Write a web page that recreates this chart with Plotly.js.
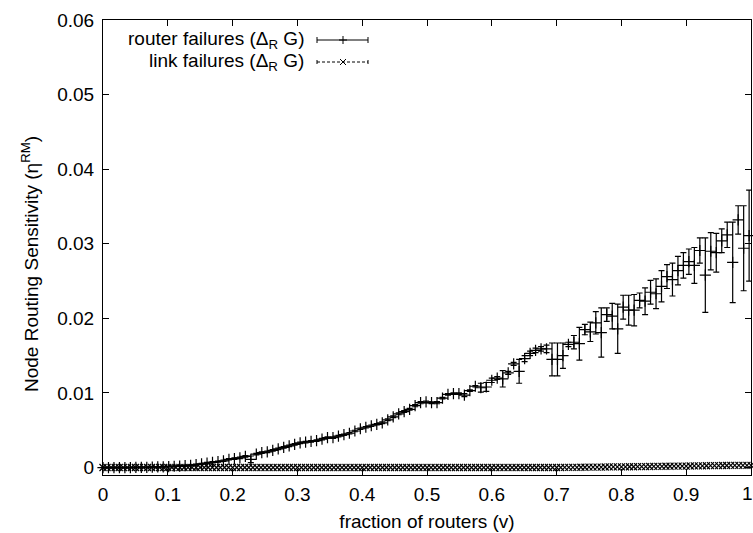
<!DOCTYPE html>
<html>
<head>
<meta charset="utf-8">
<script src="https://cdn.plot.ly/plotly-3.0.1.min.js"></script>
<style>html,body{margin:0;padding:0;background:#fff;}#chart{width:753px;height:533px;}</style>
</head>
<body>
<div id="chart"></div>
<script>
// ---- data ----
// sampling step of router-failure fractions (v)
const routerStep = 0.00845;
const routerY = [
  0, 0, 0, 0, 0, 0, 0.00001, 0.00002, 0.00003, 0.00005,
  0.00008, 0.0001, 0.00013, 0.00017, 0.0002, 0.00025, 0.0003, 0.0004, 0.0005, 0.0006,
  0.0007, 0.0008, 0.0009, 0.0011, 0.0012, 0.0013, 0.0015, 0.0011, 0.0018, 0.0020,
  0.0021, 0.0023, 0.0025, 0.0027, 0.0029, 0.0031, 0.0033, 0.0034, 0.0035, 0.0036,
  0.0038, 0.0040, 0.0040, 0.0042, 0.0044, 0.0046, 0.0049, 0.0052, 0.0054, 0.0056,
  0.0058, 0.0060, 0.0064, 0.0068, 0.0072, 0.0075, 0.0078, 0.0083, 0.0087, 0.0088,
  0.0087, 0.0087, 0.0093, 0.0098, 0.0099, 0.0099, 0.0097, 0.0103, 0.0109, 0.0107,
  0.0108, 0.0117, 0.0120, 0.0119, 0.0127, 0.0139, 0.0129, 0.0146, 0.0153, 0.0157,
  0.0159, 0.0159, 0.0145, 0.0145, 0.0150, 0.0165, 0.0168, 0.0166, 0.0185, 0.0182,
  0.0194, 0.0181, 0.0205, 0.0203, 0.0186, 0.0215, 0.0211, 0.0211, 0.0224, 0.0223,
  0.0235, 0.0233, 0.0243, 0.0256, 0.0252, 0.0264, 0.0271, 0.0276, 0.0271, 0.0291,
  0.0258, 0.0290, 0.0288, 0.0304, 0.0312, 0.0275, 0.0332, 0.0294, 0.0311
];
const routerErr = [
  0.00003, 0.00003, 0.00003, 0.00003, 0.00003, 0.00003, 0.00003, 0.00003, 0.00004, 0.00004,
  0.00004, 0.00005, 0.00005, 0.00005, 0.00006, 0.00006, 0.00006, 0.00007, 0.00007, 0.00008,
  0.00008, 0.00008, 0.00009, 0.00009, 0.0001, 0.0001, 0.0001, 0.00045, 0.0001, 0.0001,
  0.0001, 0.0001, 0.0001, 0.0001, 0.0001, 0.0001, 0.0001, 0.0001, 0.0001, 0.0001,
  0.0001, 0.0001, 0.0001, 0.0001, 0.0001, 0.0001, 0.0001, 0.0001, 0.0001, 0.0001,
  0.0001, 0.00012, 0.00012, 0.00012, 0.00012, 0.00012, 0.00012, 0.00015, 0.00015, 0.00012,
  0.00012, 0.00015, 0.0001, 0.0001, 0.0001, 0.0001, 0.0002, 0.0001, 0.0001, 0.0006,
  0.0006, 0.0003, 0.0002, 0.0011, 0.0002, 0.0002, 0.0016, 0.0004, 0.0003, 0.0003,
  0.0003, 0.0005, 0.0022, 0.0022, 0.0017, 0.0003, 0.0009, 0.0022, 0.0007, 0.0013,
  0.0015, 0.0033, 0.0009, 0.0017, 0.0033, 0.0016, 0.0020, 0.0021, 0.0010, 0.0018,
  0.0016, 0.0020, 0.0021, 0.0016, 0.0022, 0.0019, 0.0017, 0.0017, 0.0024, 0.0017,
  0.0050, 0.0025, 0.0026, 0.0016, 0.0017, 0.0054, 0.0019, 0.0057, 0.0061
];
// link failures sampled at a finer step
const linkStep = 0.00625;
const linkY = [
  0,0,0,0,0,0,0,0,0,0, 0,0,0,0,0,0,0,0,0,0,
  0,0,0,0,0,0,0,0,0,0, 0,0,0,0,0,0,0,0,0,0,
  0,0,0,0,0,0,0,0,0,0, 0,0,0,0,0,0,0,0,0,0,
  0,0,0,0,0,0,0,0,0,0, 0,0,0,0,0,0,0,0,0,0,
  0,0,0,0,0,0,0,0,0,0, 0,0,0,0,0,0,0,0,0,0,
  0,0,0,0,0,0,0,0,0,0, 0,0,
  0.00001, 0.00001, 0.00002, 0.00002, 0.00003, 0.00003, 0.00004, 0.00004, 0.00005,
  0.00005, 0.00006, 0.00006, 0.00007, 0.00008, 0.00008, 0.00009, 0.0001, 0.0001,
  0.00011, 0.00011, 0.00012, 0.00013, 0.00013, 0.00014, 0.00015, 0.00015, 0.00016,
  0.00017, 0.00017, 0.00018, 0.00019, 0.0002, 0.0002, 0.00021, 0.00022, 0.00022,
  0.00023, 0.00024, 0.00025, 0.00025, 0.00026, 0.00027, 0.00027, 0.00028, 0.00029,
  0.00029, 0.0003, 0.0003, 0.0003
];
const xTicks = [0, 0.1, 0.2, 0.3, 0.4, 0.5, 0.6, 0.7, 0.8, 0.9, 1];
const xTickText = ['0', '0.1', '0.2', '0.3', '0.4', '0.5', '0.6', '0.7', '0.8', '0.9', '1'];
const yTicks = [0, 0.01, 0.02, 0.03, 0.04, 0.05, 0.06];
const yTickText = ['0', '0.01', '0.02', '0.03', '0.04', '0.05', '0.06'];
const seriesNames = ['router failures (&#916;<sub>R</sub> G)', 'link failures (&#916;<sub>R</sub> G)'];
const xTitle = 'fraction of routers (v)';
const yTitle = 'Node Routing Sensitivity (&#951;<sup>RM</sup>)';

const routerX = routerY.map((_, i) => i * routerStep);
const linkX = linkY.map((_, i) => i * linkStep);

const FONT = 'Liberation Sans, Arial, Helvetica, sans-serif';
const FS = 19;

const traces = [
  {
    x: linkX, y: linkY, type: 'scatter', mode: 'markers', cliponaxis: false,
    marker: {symbol: 'x-thin-open', size: 7, line: {width: 1.2, color: '#000'}, color: '#000'},
    showlegend: false, hoverinfo: 'skip'
  },
  {
    x: routerX, y: routerY, type: 'scatter', mode: 'markers', cliponaxis: false,
    marker: {symbol: 'cross-thin-open', size: 8, line: {width: 1.2, color: '#000'}, color: '#000'},
    error_y: {type: 'data', array: routerErr, visible: true, color: '#000', thickness: 1.2, width: 3},
    showlegend: false, hoverinfo: 'skip'
  }
];

// legend drawn gnuplot-style (text left, sample right) in paper coordinates
const L = 103, W = 648, T = 20, H = 455;
const px = v => (v - L) / W;
const py = v => (T + H - v) / H;
const legY1 = 40, legY2 = 62, sx0 = 317, sx1 = 368, sxm = 343;
const ln = (x0, y0, x1, y1, dash) => ({type: 'line', xref: 'paper', yref: 'paper',
  x0: px(x0), y0: py(y0), x1: px(x1), y1: py(y1), line: {color: '#000', width: 1, dash: dash || 'solid'}});
const shapes = [
  ln(sx0, legY1, sx1, legY1),
  ln(sx0, legY1 - 3, sx0, legY1 + 3),
  ln(sx1, legY1 - 3, sx1, legY1 + 3),
  ln(sxm - 4, legY1, sxm + 4, legY1),
  ln(sxm, legY1 - 4, sxm, legY1 + 4),
  ln(sx0, legY2, sx1, legY2, '3px,2px'),
  ln(sx0, legY2 - 2, sx0, legY2 + 2),
  ln(sx1, legY2 - 2, sx1, legY2 + 2),
  ln(sxm - 3, legY2 - 3, sxm + 3, legY2 + 3),
  ln(sxm - 3, legY2 + 3, sxm + 3, legY2 - 3)
];
const tickFont = {family: FONT, size: FS, color: '#000'};
const lastIdx = xTicks.length - 1;
const annotations = [
  {xref: 'paper', yref: 'paper', x: px(306), y: py(legY1), xanchor: 'right', yanchor: 'middle',
   text: seriesNames[0], showarrow: false, font: tickFont},
  {xref: 'paper', yref: 'paper', x: px(306), y: py(legY2), xanchor: 'right', yanchor: 'middle',
   text: seriesNames[1], showarrow: false, font: tickFont},
  {xref: 'paper', yref: 'paper', x: px(30), y: py(264), xanchor: 'center', yanchor: 'middle',
   textangle: -90, text: yTitle, showarrow: false, font: tickFont},
  // last x tick label, kept inside the page like the reference
  {xref: 'x', yref: 'paper', x: xTicks[lastIdx], y: py(493), xanchor: 'right', yanchor: 'middle',
   xshift: 4, text: xTickText[lastIdx], showarrow: false, font: tickFont}
];
const xTickTextShown = xTickText.map((t, i) => (i === lastIdx ? '' : t));

const axisCommon = {
  showline: true, linecolor: '#000', linewidth: 1, mirror: 'allticks',
  ticks: 'inside', ticklen: 6, tickcolor: '#000', tickwidth: 1,
  showgrid: false, zeroline: false,
  tickfont: tickFont
};

const layout = {
  width: 753, height: 533,
  margin: {l: 103, r: 2, t: 20, b: 58},
  paper_bgcolor: '#fff', plot_bgcolor: '#fff',
  showlegend: false,
  font: {family: FONT, size: FS, color: '#000'},
  xaxis: Object.assign({}, axisCommon, {
    range: [0, 1], tickmode: 'array', tickvals: xTicks, ticktext: xTickTextShown,
    ticklabelstandoff: 2,
    title: {text: xTitle, font: tickFont, standoff: 10}
  }),
  yaxis: Object.assign({}, axisCommon, {
    range: [-0.001, 0.06], tickmode: 'array', tickvals: yTicks, ticktext: yTickText,
    ticklabelstandoff: 4
  }),
  shapes: shapes,
  annotations: annotations
};

Plotly.newPlot('chart', traces, layout, {displayModeBar: false, staticPlot: true});
</script>
</body>
</html>
